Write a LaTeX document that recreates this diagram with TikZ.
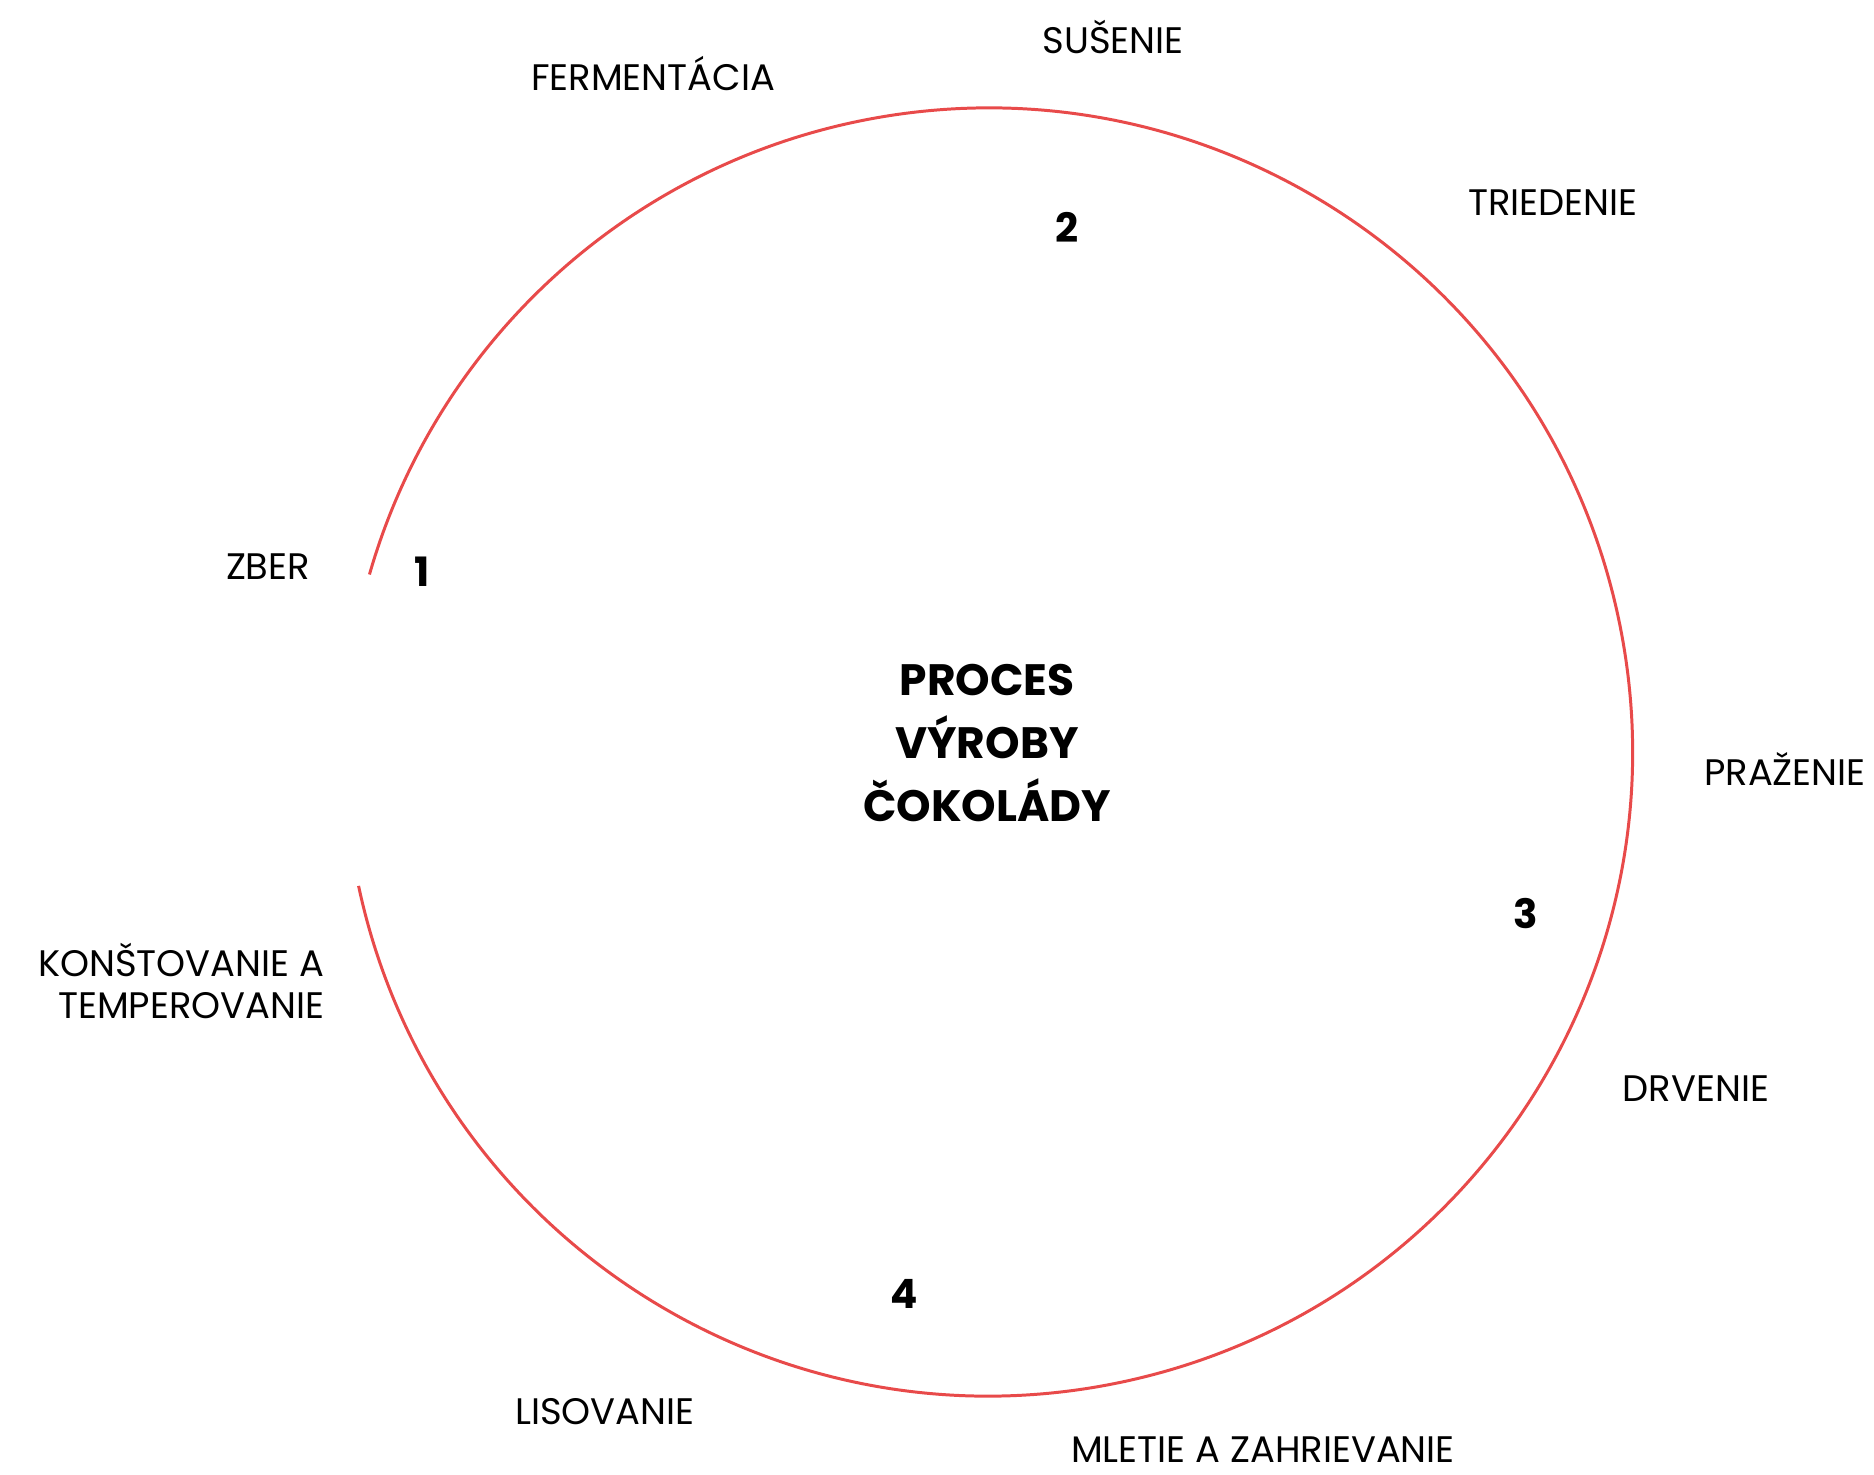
\documentclass[tikz,border=0pt]{standalone}
\usepackage{fontspec}
\setmainfont{Poppins}
\definecolor{arcred}{HTML}{E84A4A}
\tikzset{
  lbl/.style={font=\fontsize{10.5}{12}\selectfont, inner sep=0pt, text=black},
  num/.style={font=\fontsize{11.5}{13}\selectfont\bfseries, inner sep=0pt},
  title/.style={font=\fontsize{12.5}{17.9}\selectfont\bfseries, align=center, inner sep=0pt},
  ring/.style={draw=arcred, line width=0.85pt}
}
\begin{document}
\begin{tikzpicture}
\useasboundingbox (0,0) rectangle (18.74,14.74);
\coordinate (c) at (9.885,7.22);
\draw[ring] (c) ++(-168:6.44) arc[start angle=-168, end angle=164, radius=6.44];
\node[title] (t) at (9.87,7.31) {PROCES\\VÝROBY\\ČOKOLÁDY};
\node[lbl] (ferm) at (6.53,14.00) {FERMENTÁCIA};
\node[lbl] (sus) at (11.13,14.37) {SUŠENIE};
\node[lbl] (tried) at (15.53,12.71) {TRIEDENIE};
\node[lbl] (praz) at (17.85,7.05) {PRAŽENIE};
\node[lbl] (drv) at (16.96,3.85) {DRVENIE};
\node[lbl] (mlet) at (12.63,0.24) {MLETIE A ZAHRIEVANIE};
\node[lbl] (lis) at (6.05,0.62) {LISOVANIE};
\node[lbl, anchor=east, align=right] (kons) at (3.25,4.93) {KONŠTOVANIE A\\TEMPEROVANIE};
\node[lbl] (zber) at (2.68,9.07) {ZBER};
\node[num] (n1) at (4.22,9.02) {1};
\node[num] (n2) at (10.67,12.47) {2};
\node[num] (n3) at (15.26,5.60) {3};
\node[num] (n4) at (9.04,1.80) {4};
\end{tikzpicture}
\end{document}
